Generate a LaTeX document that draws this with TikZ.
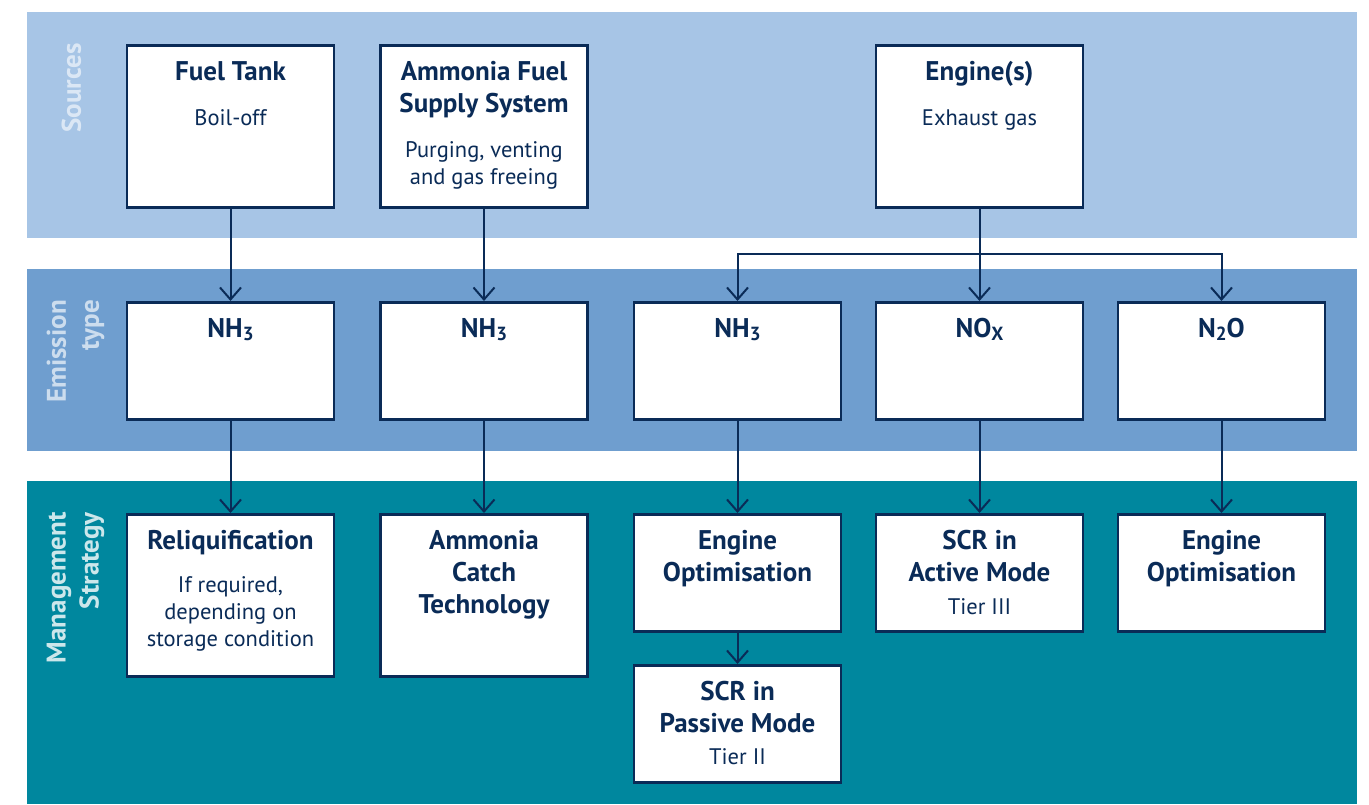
\documentclass[tikz,border=0pt]{standalone}
\usepackage{fontspec}
\setmainfont{PT Sans}
\usetikzlibrary{arrows.meta}

\definecolor{navy}{HTML}{0A2B57}
\definecolor{srcblue}{HTML}{A7C5E6}
\definecolor{emiblue}{HTML}{6F9ECF}
\definecolor{mgmteal}{HTML}{00879E}

\newcommand{\chem}[1]{\lower3pt\hbox{\fontsize{19}{19}\selectfont\bfseries #1}}
\newcommand{\boxtitle}[1]{\fontsize{27}{32}\selectfont\bfseries #1\par}
\newcommand{\boxsub}[2]{\vspace{#1}\fontsize{22.5}{27}\selectfont\mdseries #2\par}
\newcommand{\boxtext}[1]{\parbox[t]{205pt}{\centering #1}}
\newcommand{\bandfont}{\fontsize{27}{33}\selectfont\bfseries}

\begin{document}
\begin{tikzpicture}[x=1pt, y=-1pt]
\tikzset{box/.style={draw=navy, line width=2.5pt, fill=white, minimum width=207pt, inner sep=0pt, anchor=north}}
\tikzset{tall/.style={box, minimum height=162pt}, short/.style={box, minimum height=117pt}}
\tikzset{txt/.style={anchor=base, inner sep=0pt, text=navy, yshift=-36pt}}
\tikzset{conn/.style={draw=navy, line width=2pt, -{Straight Barb[length=12pt, width=21pt]}}}
\tikzset{band/.style={text=white, font=\bandfont, rotate=90, align=right, anchor=north east, inner sep=0pt}}

\useasboundingbox (0,0) rectangle (1369,804);

% bands
\fill[srcblue] (27,12) rectangle (1357,238);
\fill[emiblue] (27,269) rectangle (1357,451);
\fill[mgmteal] (27,481) rectangle (1357,804);

\node[band, text opacity=0.6] (lsrc) at (61.5,43) {Sources};
\node[band, text opacity=0.65] (lemi) at (46.5,300) {Emission\\type};
\node[band, text opacity=0.8] (lmgm) at (46.5,512) {Management\\Strategy};

% sources
\node[tall] (tank) at (230.5,44) {};
\node[tall] (afss) at (484,44) {};
\node[tall] (engine) at (979.5,44) {};
\node[txt] (tank-t) at (tank.north) {\boxtext{\boxtitle{Fuel Tank}\boxsub{18pt}{Boil-off}}};
\node[txt] (afss-t) at (afss.north) {\boxtext{\boxtitle{Ammonia Fuel\\Supply System}\boxsub{18pt}{Purging, venting\\and gas freeing}}};
\node[txt] (engine-t) at (engine.north) {\boxtext{\boxtitle{Engine(s)}\boxsub{18pt}{Exhaust gas}}};

% emission type
\node[short] (nh3a) at (230.5,301) {};
\node[short] (nh3b) at (484,301) {};
\node[short] (nh3c) at (737.5,301) {};
\node[short] (nox) at (979.5,301) {};
\node[short] (n2o) at (1221.5,301) {};
\node[txt] (nh3a-t) at (nh3a.north) {\boxtext{\boxtitle{NH\chem{3}}}};
\node[txt] (nh3b-t) at (nh3b.north) {\boxtext{\boxtitle{NH\chem{3}}}};
\node[txt] (nh3c-t) at (nh3c.north) {\boxtext{\boxtitle{NH\chem{3}}}};
\node[txt] (nox-t) at (nox.north) {\boxtext{\boxtitle{NO\chem{X}}}};
\node[txt] (n2o-t) at (n2o.north) {\boxtext{\boxtitle{N\chem{2}O}}};

% management strategy
\node[tall] (reliq) at (230.5,513) {};
\node[tall] (catch) at (484,513) {};
\node[short] (engopt) at (737.5,513) {};
\node[short] (scract) at (979.5,513) {};
\node[short] (engopt2) at (1221.5,513) {};
\node[short] (scrpas) at (737.5,664) {};
\node[txt] (reliq-t) at (reliq.north) {\boxtext{\boxtitle{Reliquification}\boxsub{16pt}{If required,\\depending on\\storage condition}}};
\node[txt] (catch-t) at (catch.north) {\boxtext{\boxtitle{Ammonia\\Catch\\Technology}}};
\node[txt] (engopt-t) at (engopt.north) {\boxtext{\boxtitle{Engine\\Optimisation}}};
\node[txt] (scract-t) at (scract.north) {\boxtext{\boxtitle{SCR in\\Active Mode}\boxsub{6pt}{Tier III}}};
\node[txt] (engopt2-t) at (engopt2.north) {\boxtext{\boxtitle{Engine\\Optimisation}}};
\node[txt] (scrpas-t) at (scrpas.north) {\boxtext{\boxtitle{SCR in\\Passive Mode}\boxsub{5pt}{Tier II}}};

% connectors
\coordinate (split) at (979.5,254);
\draw[conn] (tank.south) -- (nh3a.north);
\draw[conn] (afss.south) -- (nh3b.north);
\draw[conn] (engine.south) -- (nox.north);
\draw[conn] (split) -| (nh3c.north);
\draw[conn] (split) -| (n2o.north);
\draw[conn] (nh3a.south) -- (reliq.north);
\draw[conn] (nh3b.south) -- (catch.north);
\draw[conn] (nh3c.south) -- (engopt.north);
\draw[conn] (nox.south) -- (scract.north);
\draw[conn] (n2o.south) -- (engopt2.north);
\draw[conn] (engopt.south) -- (scrpas.north);

\end{tikzpicture}
\end{document}
